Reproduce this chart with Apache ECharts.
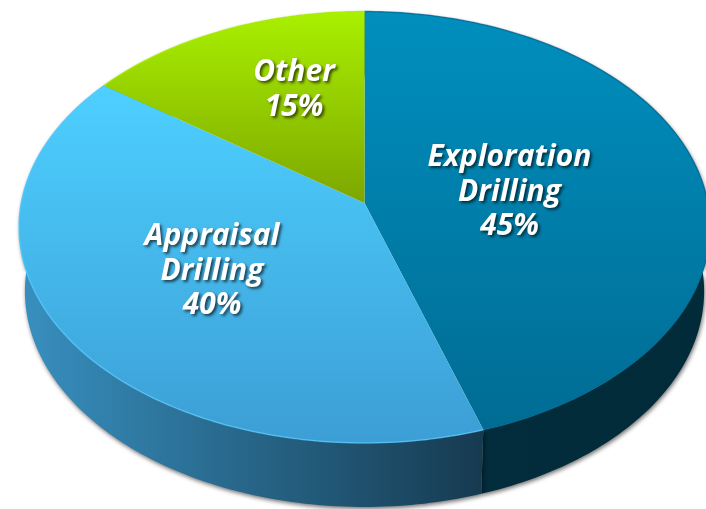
<!DOCTYPE html>
<html>
<head>
<meta charset="utf-8">
<title>Drilling share</title>
<script src="https://cdn.jsdelivr.net/npm/echarts@6/dist/echarts.min.js"></script>
<style>
	html,body{margin:0;padding:0;background:#fff;overflow:hidden;}
	#main{width:706px;height:509px;}
</style>
</head>
<body>
<div id="main"></div>
<script>
	var categories = ['Exploration\nDrilling', 'Appraisal\nDrilling', 'Other'];
	var shares = [45, 40, 15];

	// look of each slice, same order as categories
	var topColors = [['#008fbe', '#006c94'], ['#4dd0ff', '#3c9ed5'], ['#a9f000', '#7da600']];
	var wallColors = [['#022d3c', '#022b3a'], ['#3890c0', '#163a50'], ['#7da600', '#7da600']];
	var rimColors = ['#006a92', '#55caff', '#a9f000'];
	var labelCenters = [[509.5, 192], [212, 271], [294, 90]];

	// pie is a circle seen in perspective, so the centre sits above the middle of the ellipse
	var cx = 364.5, cy = 203, a = 343.3, b = 213, k = 0.1124;
	var depth = 64, bottomScale = 0.983;
	var total = shares.reduce(function(s, v){ return s + v; }, 0);

	function rimPoint(turn){
		var t = turn * Math.PI * 2;
		var u = Math.sin(t), v = Math.cos(t);
		var w = 1 + k * v;
		return [cx + a * u / w, cy - b * v / w];
	}
	function lowerPoint(p){
		return [cx + (p[0] - cx) * bottomScale, p[1] + depth];
	}
	function arcPoints(index){
		var start = 0;
		for (var i = 0; i < index; i++) {
			start += shares[i] / total;
		}
		var span = shares[index] / total;
		var pts = [];
		var n = Math.ceil(span * 360);
		for (var j = 0; j <= n; j++) {
			pts.push(rimPoint(start + span * j / n));
		}
		return pts;
	}
	function gradient(colors, horizontal){
		return new echarts.graphic.LinearGradient(0, 0, horizontal ? 1 : 0, horizontal ? 0 : 1, [
			{offset: 0, color: colors[0]},
			{offset: 1, color: colors[1]}
		]);
	}

	function renderWall(params){
		var i = params.dataIndex;
		var arc = arcPoints(i);
		var lower = arc.map(lowerPoint).reverse();
		return {
			type: 'polygon',
			shape: {points: arc.concat(lower)},
			style: {
				fill: gradient(wallColors[i], true),
				shadowBlur: 4,
				shadowOffsetX: 1,
				shadowOffsetY: 2,
				shadowColor: 'rgba(0,0,0,0.55)'
			}
		};
	}
	function renderTop(params, api){
		var i = params.dataIndex;
		var arc = arcPoints(i);
		return {
			type: 'group',
			children: [{
				type: 'polygon',
				shape: {points: [[cx, cy]].concat(arc)},
				style: {fill: gradient(topColors[i], false)}
			}, {
				type: 'polyline',
				shape: {points: arc},
				style: {fill: null, stroke: rimColors[i], lineWidth: 1.5, opacity: 0.7}
			}, {
				type: 'text',
				z2: 10,
				style: {
					x: labelCenters[i][0],
					y: labelCenters[i][1],
					text: categories[i] + '\n' + api.value(1) + '%',
					fill: '#fff',
					font: 'italic bold 30px "Open Sans"',
					lineHeight: 34.5,
					align: 'center',
					verticalAlign: 'middle',
					textShadowColor: 'rgba(0,0,0,0.65)',
					textShadowBlur: 3,
					textShadowOffsetX: 2,
					textShadowOffsetY: 2
				}
			}]
		};
	}

	var seriesData = shares.map(function(v, i){ return [i, v]; });
	var myChart = echarts.init(document.getElementById('main'), null, {renderer: 'canvas'});
	myChart.setOption({
		animation: false,
		backgroundColor: '#fff',
		series: [{
			type: 'custom',
			coordinateSystem: 'none',
			silent: true,
			z: 1,
			renderItem: renderWall,
			data: seriesData
		}, {
			type: 'custom',
			coordinateSystem: 'none',
			silent: true,
			z: 2,
			renderItem: renderTop,
			data: seriesData
		}]
	});
</script>
</body>
</html>
